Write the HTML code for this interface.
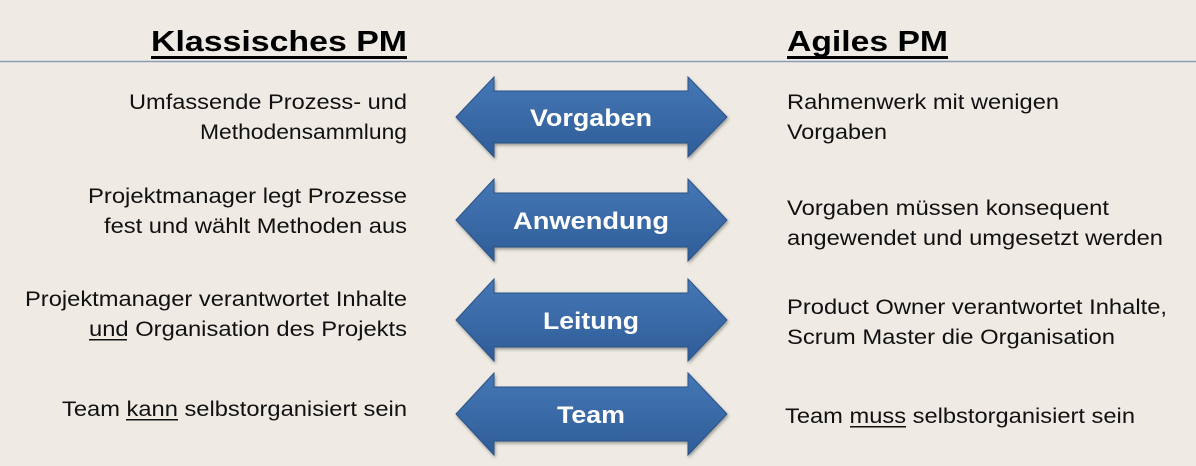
<!DOCTYPE html>
<html><head><meta charset="utf-8"><style>
body{margin:0;width:1196px;height:466px;background:#efebe4;overflow:hidden;font-family:"Liberation Sans",Arial,sans-serif;}
</style></head><body>
<svg width="1196" height="466" xmlns="http://www.w3.org/2000/svg" style="position:absolute;left:0;top:0">
<defs><linearGradient id="g" x1="0" y1="0" x2="0" y2="1"><stop offset="0" stop-color="#4577b5"/><stop offset="1" stop-color="#2f5d98"/></linearGradient>
<filter id="s"><feDropShadow dx="1" dy="2" stdDeviation="1.5" flood-color="#000" flood-opacity="0.35"/></filter></defs>
<line x1="0" y1="61.5" x2="1196" y2="61.5" stroke="#8a9bb3" stroke-width="1.5"/>
<g font-size="29" font-weight="bold" fill="#000" lengthAdjust="spacingAndGlyphs">
<text x="151" y="51" textLength="256" lengthAdjust="spacingAndGlyphs">Klassisches PM</text><rect x="151" y="56" width="256" height="3"/>
<text x="787" y="51" textLength="161" lengthAdjust="spacingAndGlyphs">Agiles PM</text><rect x="787" y="56" width="161" height="3"/>
</g>
<g fill="url(#g)" stroke="#2b5286" stroke-width="1" filter="url(#s)">
<polygon points="456,117 494,77 494,91 688,91 688,77 727,117 688,157 688,143 494,143 494,157"/>
<polygon points="456,220 494,179 494,193 688,193 688,179 727,220 688,261 688,247 494,247 494,261"/>
<polygon points="456,320 494,279 494,293 688,293 688,279 727,320 688,361 688,347 494,347 494,361"/>
<polygon points="456,414 494,373 494,387 688,387 688,373 727,414 688,455 688,441 494,441 494,455"/>
</g>
<g font-size="24" font-weight="bold" fill="#fff" text-anchor="middle">
<text x="591" y="126" textLength="122" lengthAdjust="spacingAndGlyphs">Vorgaben</text>
<text x="591" y="229" textLength="156" lengthAdjust="spacingAndGlyphs">Anwendung</text>
<text x="591" y="329" textLength="96" lengthAdjust="spacingAndGlyphs">Leitung</text>
<text x="591" y="423" textLength="68" lengthAdjust="spacingAndGlyphs">Team</text>
</g>
<g font-size="21" fill="#111">
<text x="129" y="109" textLength="278" lengthAdjust="spacingAndGlyphs">Umfassende Prozess- und</text>
<text x="200" y="139" textLength="207" lengthAdjust="spacingAndGlyphs">Methodensammlung</text>
<text x="88" y="203" textLength="319" lengthAdjust="spacingAndGlyphs">Projektmanager legt Prozesse</text>
<text x="104" y="233" textLength="303" lengthAdjust="spacingAndGlyphs">fest und wählt Methoden aus</text>
<text x="25" y="306" textLength="382" lengthAdjust="spacingAndGlyphs">Projektmanager verantwortet Inhalte</text>
<text x="89" y="336" textLength="318" lengthAdjust="spacingAndGlyphs">und Organisation des Projekts</text>
<text x="62" y="416" textLength="345" lengthAdjust="spacingAndGlyphs">Team kann selbstorganisiert sein</text>
</g>
<rect x="89" y="339" width="38" height="1.5" fill="#111"/>
<rect x="126" y="419" width="52" height="1.5" fill="#111"/>
<g font-size="21" fill="#111">
<text x="787" y="109" textLength="272" lengthAdjust="spacingAndGlyphs">Rahmenwerk mit wenigen</text>
<text x="787" y="139" textLength="100" lengthAdjust="spacingAndGlyphs">Vorgaben</text>
<text x="787" y="215" textLength="322" lengthAdjust="spacingAndGlyphs">Vorgaben müssen konsequent</text>
<text x="787" y="245" textLength="376" lengthAdjust="spacingAndGlyphs">angewendet und umgesetzt werden</text>
<text x="787" y="314" textLength="380" lengthAdjust="spacingAndGlyphs">Product Owner verantwortet Inhalte,</text>
<text x="787" y="344" textLength="328" lengthAdjust="spacingAndGlyphs">Scrum Master die Organisation</text>
<text x="785" y="423" textLength="350" lengthAdjust="spacingAndGlyphs">Team muss selbstorganisiert sein</text>
</g>
<rect x="850" y="426" width="56" height="1.5" fill="#111"/>
</svg>
</body></html>
